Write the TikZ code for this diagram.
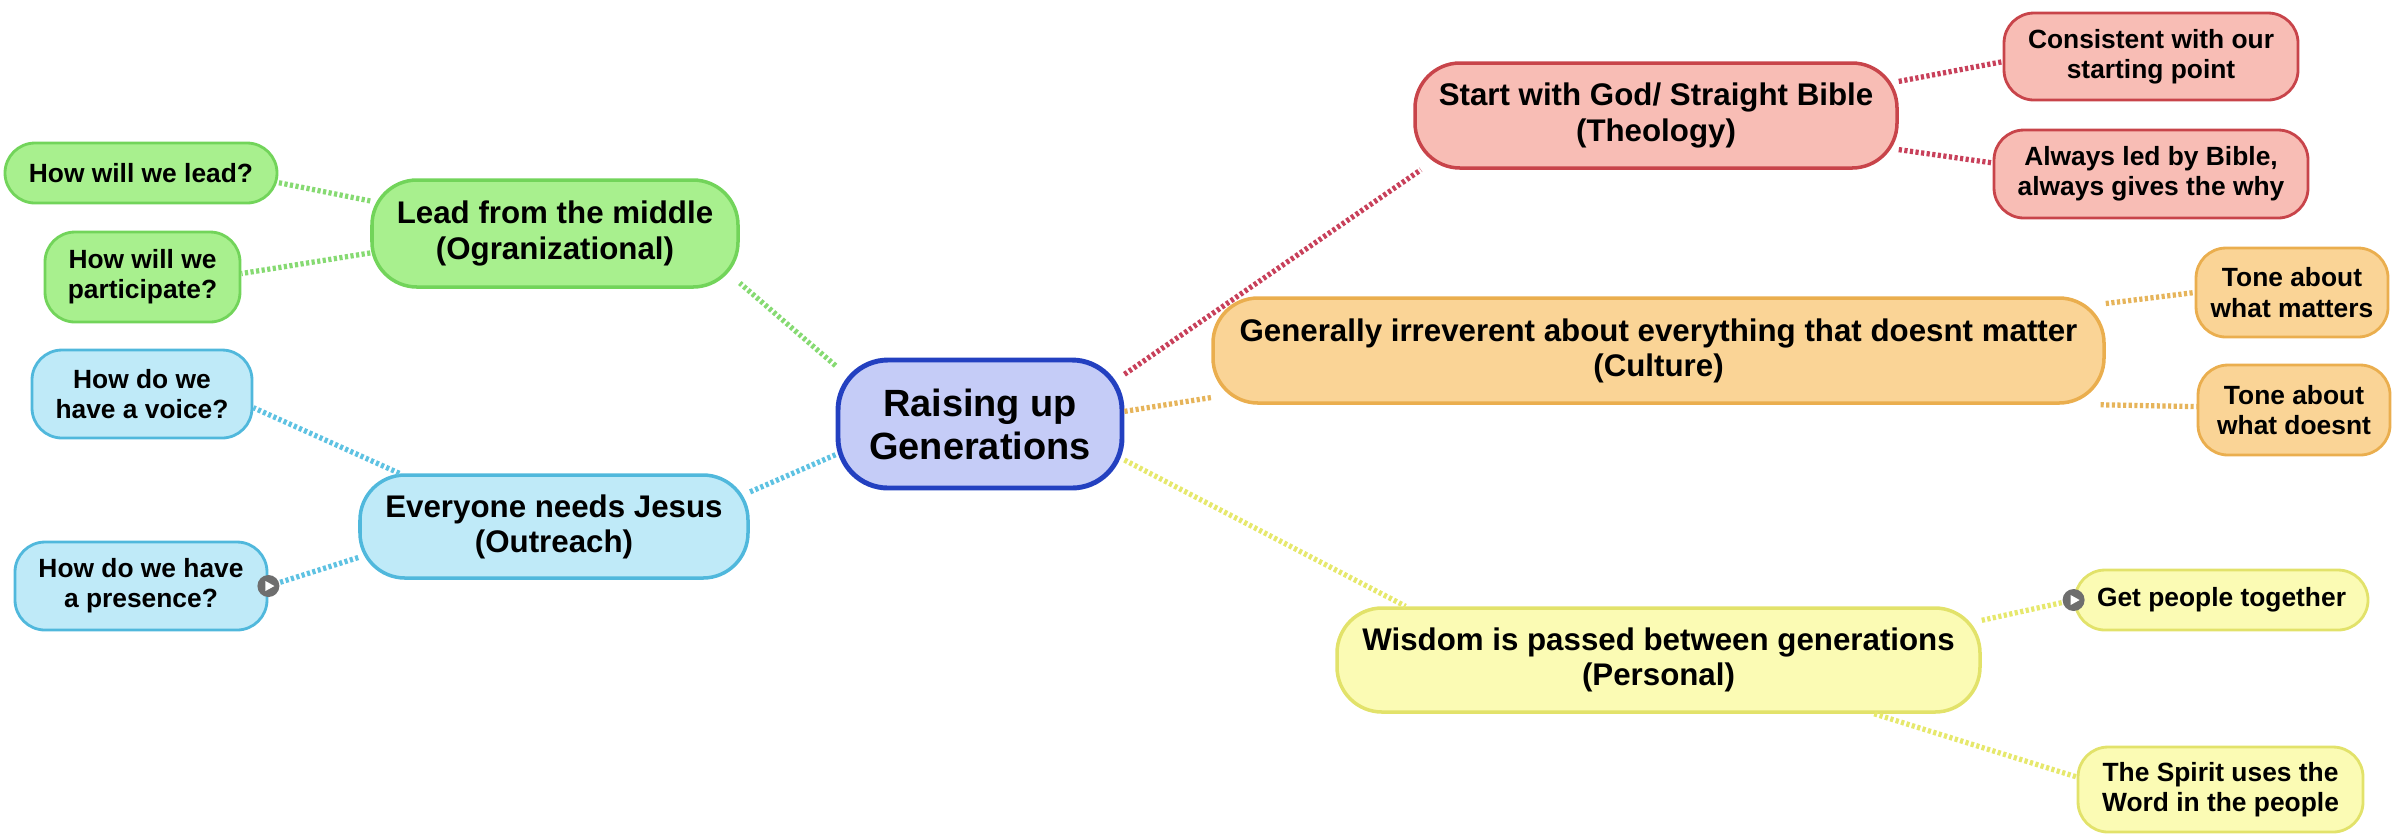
\documentclass[tikz,border=0pt]{standalone}
\usepackage{fontspec}
\setmainfont{Liberation Sans}
\usepackage{xcolor}

\definecolor{hubfill}{HTML}{C5CCF7}
\definecolor{hubline}{HTML}{2340C0}
\definecolor{orgfill}{HTML}{A8F08E}
\definecolor{orgline}{HTML}{72D45A}
\definecolor{outrfill}{HTML}{BFEAF8}
\definecolor{outrline}{HTML}{50B8DC}
\definecolor{theofill}{HTML}{F8BDB5}
\definecolor{theoline}{HTML}{C8444A}
\definecolor{cultfill}{HTML}{FAD496}
\definecolor{cultline}{HTML}{EAAE4E}
\definecolor{persfill}{HTML}{FBFBB4}
\definecolor{persline}{HTML}{E2E26A}
\definecolor{theolink}{HTML}{C8405A}
\definecolor{cultlink}{HTML}{E6B45A}
\definecolor{perslink}{HTML}{E6E86C}
\definecolor{orglink}{HTML}{86DA72}
\definecolor{outrlink}{HTML}{5EC2E2}
\definecolor{icongray}{HTML}{6E6E6E}

\begin{document}
\begin{tikzpicture}[
    hubbox/.style={draw=hubline, fill=hubfill, line width=1.4pt, rounded corners=0.5cm, align=center, font=\fontsize{10.8}{12.2}\selectfont\bfseries},
    mainbox/.style={line width=1pt, rounded corners=0.45cm, align=center, font=\fontsize{8.9}{10}\selectfont\bfseries},
    leafbox/.style={line width=0.8pt, rounded corners=0.3cm, align=center, font=\fontsize{7.5}{8.6}\selectfont\bfseries},
    link/.style={line width=1.5pt, dash pattern=on 0.9pt off 0.7pt},
    icon/.style={circle, fill=icongray, minimum size=0.22cm, inner sep=0pt}]

    \useasboundingbox (0,0) rectangle (24.02,-8.33);

    % centre
    \node[hubbox, minimum width=2.84cm, minimum height=1.28cm] (hub) at (9.80,-4.24) {Raising up\\Generations};

    % right side
    \node[mainbox, draw=theoline, fill=theofill, minimum width=4.82cm, minimum height=1.05cm] (theo) at (16.56,-1.155) {Start with God/ Straight Bible\\(Theology)};
    \node[leafbox, draw=theoline, fill=theofill, minimum width=2.94cm, minimum height=0.87cm] (consist) at (21.51,-0.565) {Consistent with our\\starting point};
    \node[leafbox, draw=theoline, fill=theofill, minimum width=3.14cm, minimum height=0.88cm] (always) at (21.51,-1.74) {Always led by Bible,\\always gives the why};

    \node[mainbox, draw=cultline, fill=cultfill, minimum width=8.91cm, minimum height=1.05cm] (cult) at (16.585,-3.505) {Generally irreverent about everything that doesnt matter\\(Culture)};
    \node[leafbox, draw=cultline, fill=cultfill, minimum width=1.92cm, minimum height=0.89cm] (matters) at (22.92,-2.925) {Tone about\\what matters};
    \node[leafbox, draw=cultline, fill=cultfill, minimum width=1.92cm, minimum height=0.90cm] (doesnt) at (22.94,-4.10) {Tone about\\what doesnt};

    \node[mainbox, draw=persline, fill=persfill, minimum width=6.43cm, minimum height=1.04cm] (pers) at (16.585,-6.60) {Wisdom is passed between generations\\(Personal)};
    \node[leafbox, draw=persline, fill=persfill, minimum width=2.93cm, minimum height=0.60cm] (together) at (22.215,-6.00) {Get people together};
    \node[leafbox, draw=persline, fill=persfill, minimum width=2.85cm, minimum height=0.85cm] (spirit) at (22.205,-7.895) {The Spirit uses the\\Word in the people};

    % left side
    \node[mainbox, draw=orgline, fill=orgfill, minimum width=3.66cm, minimum height=1.07cm] (org) at (5.55,-2.335) {Lead from the middle\\(Ogranizational)};
    \node[leafbox, draw=orgline, fill=orgfill, minimum width=2.72cm, minimum height=0.60cm] (lead) at (1.41,-1.73) {How will we lead?};
    \node[leafbox, draw=orgline, fill=orgfill, minimum width=1.95cm, minimum height=0.90cm] (particip) at (1.425,-2.77) {How will we\\participate?};

    \node[mainbox, draw=outrline, fill=outrfill, minimum width=3.88cm, minimum height=1.03cm] (outr) at (5.54,-5.265) {Everyone needs Jesus\\(Outreach)};
    \node[leafbox, draw=outrline, fill=outrfill, minimum width=2.20cm, minimum height=0.88cm] (voice) at (1.42,-3.94) {How do we\\have a voice?};
    \node[leafbox, draw=outrline, fill=outrfill, minimum width=2.52cm, minimum height=0.88cm] (presence) at (1.41,-5.86) {How do we have\\a presence?};

    % note icons
    \node[icon] (presico) at (presence.east) {};
    \fill[white] ([xshift=-0.03cm,yshift=0.05cm]presico.center) -- ++(0.09,-0.05) -- ++(-0.09,-0.05) -- cycle;
    \node[icon] (togico) at (together.west) {};
    \fill[white] ([xshift=-0.03cm,yshift=0.05cm]togico.center) -- ++(0.09,-0.05) -- ++(-0.09,-0.05) -- cycle;

    % links from the centre
    \draw[link, theolink] (hub.19) -- (theo.193);
    \draw[link, cultlink] (hub.5) -- (cult.186);
    \draw[link, perslink] (hub.346) -- (pers.168.6);
    \draw[link, orglink] (hub.158) -- (org.345.5);
    \draw[link, outrlink] (hub.192) -- (outr.10);

    % links to the leaves
    \draw[link, theolink] (theo.8.4) -- (consist.182);
    \draw[link, theolink] (theo.352) -- (always.176.7);
    \draw[link, cultlink] (cult.6.5) -- (matters.180);
    \draw[link, cultlink] (cult.353.3) -- (doesnt.178);
    \draw[link, perslink] (pers.7.8) -- (togico);
    \draw[link, perslink] (pers.346.4) -- (spirit.175.4);
    \draw[link, orglink] (org.170.3) -- (lead.356);
    \draw[link, orglink] (org.186.5) -- (particip.2.3);
    \draw[link, outrlink] (outr.161.4) -- (voice.353);
    \draw[link, outrlink] (outr.189) -- (presico);
\end{tikzpicture}
\end{document}
